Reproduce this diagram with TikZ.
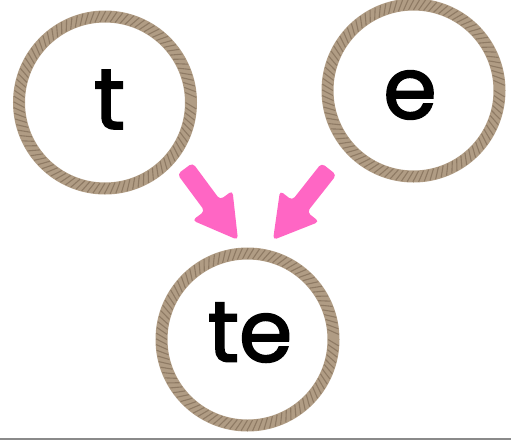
\documentclass[tikz,border=0pt]{standalone}
\usepackage{fontspec}
\setmainfont{Poppins}
\newfontfamily\lblfont{Poppins}[FakeBold=2]
\usetikzlibrary{calc}
\definecolor{ropebase}{HTML}{B09C84}
\definecolor{ropedark}{HTML}{8E7A64}
\definecolor{arrowpink}{HTML}{FF66C4}
\definecolor{rulegray}{HTML}{8A8A8A}
\tikzset{
  ring/.style={circle, draw=ropebase, line width=12pt, minimum size=172pt, inner sep=0pt, fill=white},
  ropestripe/.style={draw=ropedark, line width=1.1pt},
  lbl/.style={inner sep=0pt, font=\lblfont\fontsize{86}{86}\selectfont, text=black},
  pinkarrow/.style={fill=arrowpink, rounded corners=4pt}
}
\newcommand{\ropering}[1]{%
  \begin{scope}[shift={(#1.center)}]
    \foreach \a in {0,3.6,...,356.4}
      \draw[ropestripe] (\a:80.6) -- (\a+4:91.4);
  \end{scope}}
\newcommand{\fatarrow}[3]{% name prefix, start, end
  \coordinate (#1h) at ($(#3)!43pt!(#2)$);
  \fill[pinkarrow]
    ($(#2)!9.5pt!90:(#3)$) --
    ($(#1h)!9.5pt!90:(#3)$) --
    ($(#1h)!25pt!90:(#3)$) --
    (#3) --
    ($(#1h)!25pt!-90:(#3)$) --
    ($(#1h)!9.5pt!-90:(#3)$) --
    ($(#2)!9.5pt!-90:(#3)$) -- cycle;}
\begin{document}
\begin{tikzpicture}[x=1pt,y=-1pt]
  \useasboundingbox (0,0) rectangle (511,440);
  \fill[white] (0,0) rectangle (511,440);
  % rings
  \node[ring] (t) at (105,102.5) {};
  \node[ring] (e) at (413.5,90.5) {};
  \node[ring] (te) at (247.5,339.5) {};
  \ropering{t}
  \ropering{e}
  \ropering{te}
  % labels
  \node[lbl] (tl) at (109.5,99.5) {t};
  \node[lbl] (el) at (410,95) {e};
  \node[lbl] (tel) at (250,332.5) {te};
  % arrows
  \coordinate (a1s) at (185,168.5);
  \coordinate (a1e) at (238,240);
  \coordinate (a2s) at (329,169);
  \coordinate (a2e) at (273,240);
  \fatarrow{a1}{a1s}{a1e}
  \fatarrow{a2}{a2s}{a2e}
  % bottom rule
  \fill[rulegray] (0,437.8) rectangle (511,440);
\end{tikzpicture}
\end{document}
